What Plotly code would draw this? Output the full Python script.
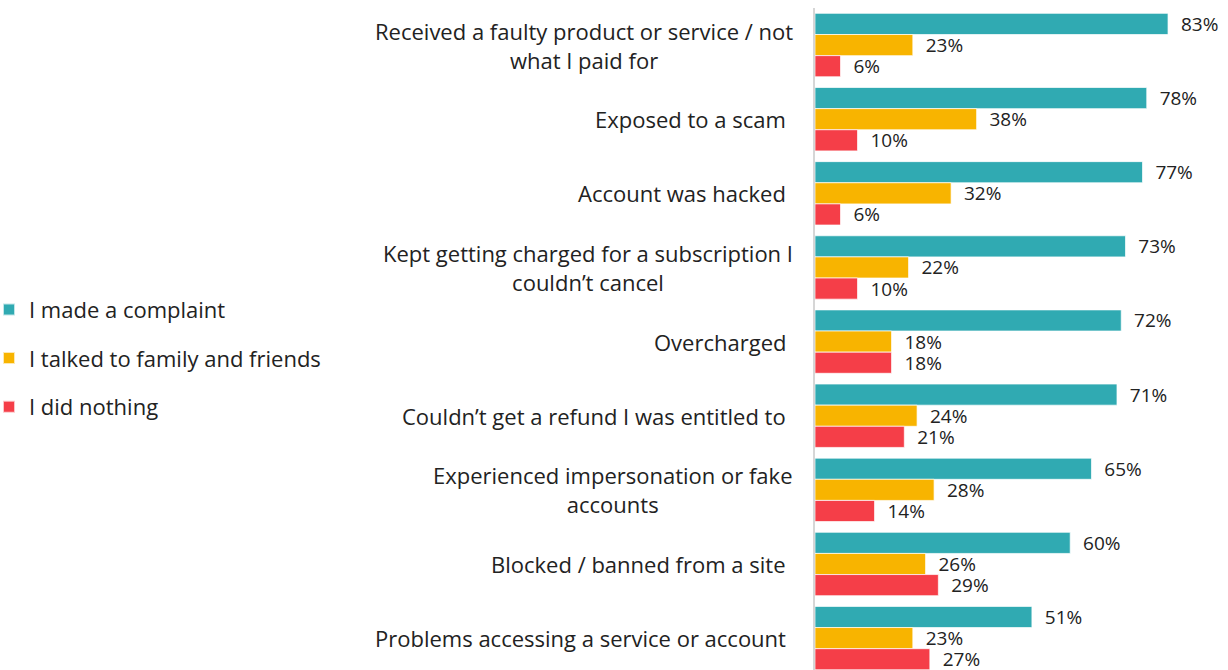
import plotly.graph_objects as go

# Survey: what people did after each kind of online problem (% of respondents)
categories = [
    "Received a faulty product or service / not<br>what I paid for",
    "Exposed to a scam",
    "Account was hacked",
    "Kept getting charged for a subscription I<br>couldn\u2019t cancel",
    "Overcharged",
    "Couldn\u2019t get a refund I was entitled to",
    "Experienced impersonation or fake<br>accounts",
    "Blocked / banned from a site",
    "Problems accessing a service or account",
]
complained = [83, 78, 77, 73, 72, 71, 65, 60, 51]
talked = [23, 38, 32, 22, 18, 24, 28, 26, 23]
nothing = [6, 10, 6, 10, 18, 21, 14, 29, 27]

series_names = ["I made a complaint", "I talked to family and friends", "I did nothing"]
series_values = [complained, talked, nothing]
colors = ["#30AAB2", "#F8B400", "#F53E48"]

FONT = "Open Sans"
TEXT_COLOR = "#222222"

fig = go.Figure()
for i, (name, vals, col) in enumerate(zip(series_names, series_values, colors)):
    fig.add_trace(go.Bar(
        y=categories,
        x=vals,
        name=name,
        orientation="h",
        marker=dict(color=col, line=dict(color="rgba(255,255,255,0.7)", width=1)),
        text=vals,
        texttemplate="\u00a0\u00a0%{x}%",
        textposition="outside",
        constraintext="none",
        textfont=dict(family=FONT, size=19, color=TEXT_COLOR),
        cliponaxis=False,
        legendgroup=f"g{i}",
    ))

# Category labels, centred per line and right-aligned against the axis
for cat in categories:
    fig.add_annotation(
        x=0, xref="paper", y=cat, yref="y",
        text=cat, showarrow=False,
        xanchor="right", yanchor="middle", align="center",
        xshift=-20 if "<br>" in cat else -27,
        font=dict(family=FONT, size=22, color=TEXT_COLOR),
    )

fig.update_layout(
    width=1228, height=670,
    margin=dict(l=815, r=0, t=8, b=0, autoexpand=False),
    paper_bgcolor="white", plot_bgcolor="white",
    barmode="group", bargap=0.145, bargroupgap=0,
    showlegend=True,
    legend=dict(
        x=-2, xanchor="left",
        y=0.471, yanchor="middle",
        traceorder="grouped", tracegroupgap=17,
        font=dict(family=FONT, size=22, color=TEXT_COLOR),
        itemsizing="constant",
    ),
)
fig.update_xaxes(range=[0, 97.1], visible=False, fixedrange=True)
fig.update_yaxes(
    type="category", range=[8.43, -0.5],
    showticklabels=False, showgrid=False, zeroline=False,
    showline=True, linecolor="#d6d6d6", linewidth=2,
    ticks="",
)

fig.write_html("out.html")
